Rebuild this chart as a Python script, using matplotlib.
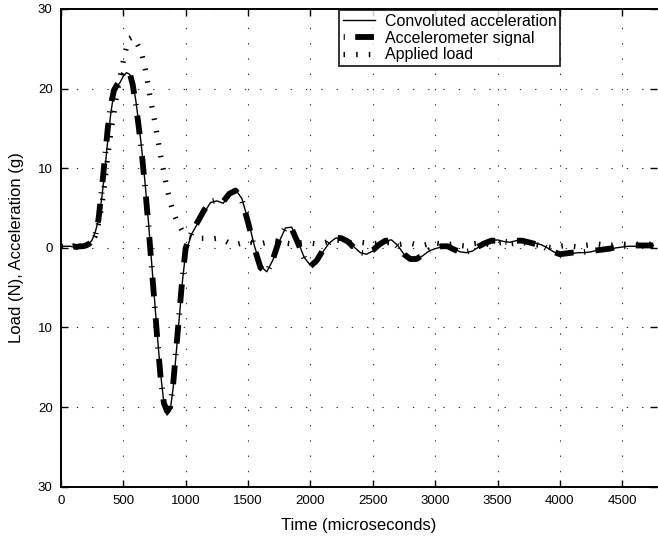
#!/usr/bin/env python3

import numpy as np
import matplotlib
matplotlib.use("Agg")
import matplotlib.pyplot as plt

# time axis (microseconds): 25 us steps through the main pulse, 50 us after
time_us = [0, 25, 50, 75, 100, 125, 150, 175, 200, 225, 250, 275, 300, 325, 350,
           375, 400, 425, 450, 475, 500, 525, 550, 575, 600, 625, 650, 675, 700,
           725, 750, 775, 800, 825, 850, 875, 900, 925, 950, 975, 1000,
           1050, 1100, 1150, 1200, 1250, 1300, 1350, 1400, 1450, 1500, 1550, 1600,
           1650, 1700, 1750, 1800, 1850, 1900, 1950, 2000, 2050, 2100, 2150, 2200,
           2250, 2300, 2350, 2400, 2450, 2500, 2550, 2600, 2650, 2700, 2750, 2800,
           2850, 2900, 2950, 3000, 3050, 3100, 3150, 3200, 3250, 3300, 3350, 3400,
           3450, 3500, 3550, 3600, 3650, 3700, 3750, 3800, 3850, 3900, 3950, 4000,
           4050, 4100, 4150, 4200, 4250, 4300, 4350, 4400, 4450, 4500, 4550, 4600,
           4650, 4700, 4750]

convoluted = [0.2, 0.2, 0.2, 0.2, 0.1, 0.1, 0.1, 0.2, 0.3, 0.5, 1.0, 2.0, 3.5, 6.0, 9.5,
              13.5, 17.0, 19.5, 20.3, 20.8, 21.6, 22.0, 21.8, 20.8, 18.5, 15.5, 12.0, 8.0, 3.5,
              -1.5, -6.5, -11.5, -16.0, -19.5, -21.0, -20.5, -17.5, -13.0, -8.5, -4.0, -0.5,
              1.8, 3.2, 4.5, 5.7, 5.9, 5.6, 6.6, 7.3, 6.2, 3.5, 0.3, -2.3,
              -3.0, -1.5, 0.8, 2.5, 2.6, 0.8, -1.2, -2.2, -1.8, -0.5, 0.6, 1.2,
              1.3, 0.9, 0.1, -0.6, -0.8, -0.4, 0.3, 0.9, 1.0, 0.3, -0.8, -1.4,
              -1.5, -1.0, -0.4, -0.1, 0.1, 0.2, -0.1, -0.5, -0.6, -0.4, 0.1, 0.6,
              0.9, 1.0, 0.8, 0.7, 0.9, 1.0, 0.8, 0.6, 0.4, 0.0, -0.5, -0.8,
              -0.8, -0.7, -0.6, -0.6, -0.5, -0.3, -0.2, -0.2, 0.0, 0.1, 0.2, 0.2,
              0.2, 0.3, 0.3]

accelerometer = [0.2, 0.3, 0.2, 0.1, 0.2, 0.1, 0.2, 0.2, 0.3, 0.5, 0.9, 1.6, 3.5, 7.0, 11.0,
                 15.0, 18.0, 19.8, 20.5, 21.0, 21.8, 22.2, 22.0, 20.5, 18.0, 15.0, 11.5, 7.5, 3.0,
                 -2.0, -7.0, -12.0, -16.5, -19.5, -20.5, -20.0, -17.0, -12.5, -8.0, -3.5, 0.0,
                 2.0, 3.4, 4.8, 5.8, 6.0, 5.8, 6.8, 7.2, 6.0, 3.2, 0.0, -2.5,
                 -3.1, -1.4, 1.0, 2.6, 2.4, 0.6, -1.3, -2.3, -1.6, -0.3, 0.7, 1.3,
                 1.2, 0.8, 0.0, -0.6, -0.7, -0.3, 0.4, 0.9, 0.9, 0.2, -0.8, -1.4,
                 -1.4, -0.9, -0.3, 0.0, 0.2, 0.2, -0.2, -0.5, -0.5, -0.3, 0.2, 0.6,
                 0.9, 0.9, 0.8, 0.7, 0.9, 0.9, 0.7, 0.5, 0.3, -0.1, -0.5, -0.8,
                 -0.7, -0.6, -0.6, -0.5, -0.4, -0.3, -0.2, -0.1, 0.1, 0.2, 0.2, 0.3,
                 0.3, 0.3, 0.3]

applied_load = [0.2, 0.1, 0.2, 0.2, 0.2, 0.1, 0.2, 0.2, 0.3, 0.5, 0.8, 1.5, 3.0, 5.0, 8.0,
                11.5, 14.5, 17.0, 19.5, 21.5, 23.5, 25.2, 26.3, 26.5, 26.0, 25.2, 24.2, 22.5, 20.3,
                18.0, 16.0, 13.8, 11.5, 9.5, 7.5, 5.8, 4.5, 3.5, 2.8, 2.0, 1.5,
                1.3, 1.2, 1.2, 1.1, 1.2, 1.0, 0.6, 0.4, 0.6, 0.8, 0.6, 0.5,
                0.7, 0.9, 0.8, 0.6, 0.5, 0.6, 0.7, 0.6, 0.5, 0.6, 0.8, 1.0,
                0.9, 0.7, 0.6, 0.7, 0.6, 0.5, 0.6, 0.7, 0.6, 0.4, 0.5, 0.6,
                0.4, 0.3, 0.5, 0.6, 0.5, 0.4, 0.5, 0.3, 0.2, 0.5, 0.6, 0.5,
                0.4, 0.6, 0.7, 0.5, 0.6, 0.7, 0.5, 0.4, 0.3, 0.1, 0.0, 0.2,
                0.3, 0.2, 0.1, 0.3, 0.4, 0.5, 0.4, 0.3, 0.4, 0.5, 0.4, 0.5,
                0.4, 0.5, 0.4]

x_ticks = [0, 500, 1000, 1500, 2000, 2500, 3000, 3500, 4000, 4500]
y_ticks = [-30, -20, -10, 0, 10, 20, 30]
y_tick_labels = ["30", "20", "10", "0", "10", "20", "30"]

plt.rcParams['font.family'] = ['Liberation Sans', 'DejaVu Sans']
plt.rcParams['lines.scale_dashes'] = False

fig = plt.figure(figsize=(6.58, 5.42), dpi=100)
ax = fig.add_axes([0.0927, 0.102, 0.906, 0.8814])

# applied load: thick dotted line, dots show up as short cross ticks
ax.plot(time_us, applied_load, color='black', lw=3.8,
        linestyle=(0, (1.1, 8.0)), dash_capstyle='butt',
        label='Applied load', zorder=3)
# accelerometer: heavy dash-dot
ax.plot(time_us, accelerometer, color='black', lw=4.2,
        linestyle=(20.5, (13.5, 7.5, 0.8, 7.5)), dash_capstyle='butt',
        label='Accelerometer signal', zorder=4)
ax.plot(time_us, convoluted, color='black', lw=1.0, solid_joinstyle='round',
        label='Convoluted acceleration', zorder=5)

ax.set_xlim(0, 4780)
ax.set_ylim(-30, 30)
ax.set_xticks(x_ticks)
ax.set_yticks(y_ticks)
ax.set_yticklabels(y_tick_labels)
ax.tick_params(direction='in', length=5, width=1.0, labelsize=9.5,
               top=True, right=True, pad=6)
for s in ax.spines.values():
    s.set_linewidth(1.4)
ax.spines['right'].set_visible(False)

ax.grid(True, color='black', linestyle=(0, (1, 10)), lw=0.8, alpha=0.8)
ax.set_axisbelow(True)

ax.set_xlabel("Time (microseconds)", fontsize=12, labelpad=8)
ax.set_ylabel("Load (N), Acceleration (g)", fontsize=12, labelpad=10)

handles, labels = ax.get_legend_handles_labels()
order = [2, 1, 0]
leg = ax.legend([handles[i] for i in order], [labels[i] for i in order],
                loc='upper left', bbox_to_anchor=(339 / 658, 1 - 10 / 542),
                bbox_transform=fig.transFigure, fontsize=11.5, frameon=True,
                fancybox=False, handlelength=2.0, handletextpad=0.6,
                borderpad=0.25, labelspacing=0.1, borderaxespad=0)
leg.get_frame().set_edgecolor('black')
leg.get_frame().set_linewidth(1.4)
leg.set_zorder(10)

fig.savefig("out.png", dpi=100)
